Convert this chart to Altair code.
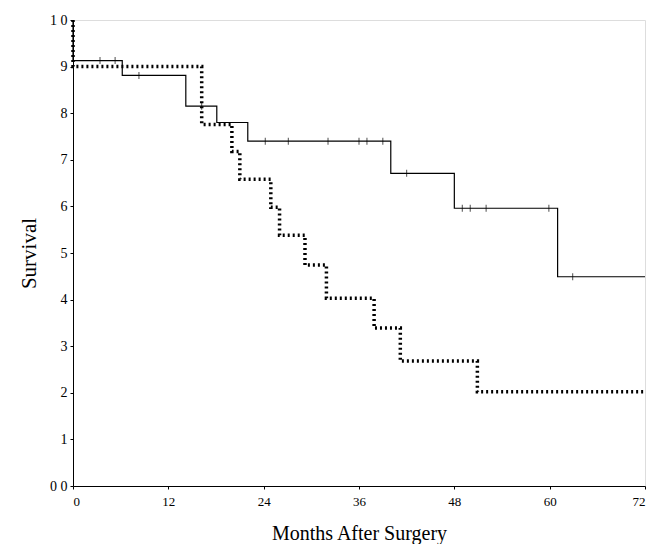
import altair as alt
import pandas as pd

# Solid curve (group A)
solid_t = [0, 0, 6.2, 14.2, 18.1, 22.0, 40.0, 48.0, 61.0, 72]
solid_s = [1.0, 0.913, 0.881, 0.815, 0.780, 0.740, 0.671, 0.596, 0.449, 0.449]
# Censor marks on solid curve
solid_cens = [3.4, 5.3, 8.3, 16.2, 24.2, 27.1, 32.1, 36.0, 37.0, 39.0, 42.0,
              49.0, 50.0, 52.0, 59.9, 62.9]

# Dashed curve (group B)
dash_t = [0, 0, 16.2, 20.0, 21.0, 24.9, 26.0, 29.2, 31.9, 37.9, 41.2, 50.9, 72]
dash_s = [1.0, 0.9, 0.776, 0.718, 0.658, 0.598, 0.538, 0.474, 0.403, 0.339,
          0.268, 0.202, 0.202]

x_ticks = [0, 12, 24, 36, 48, 60, 72]
y_ticks = [0.0, 0.1, 0.2, 0.3, 0.4, 0.5, 0.6, 0.7, 0.8, 0.9, 1.0]
y_labels = ["0 0", "1", "2", "3", "4", "5", "6", "7", "8", "9", "1 0"]


def step_value(ts, ss, t):
    v = ss[0]
    for ti, si in zip(ts, ss):
        if ti <= t:
            v = si
    return v


solid_df = pd.DataFrame({"t": solid_t, "s": solid_s, "i": range(len(solid_t))})
dash_df = pd.DataFrame({"t": dash_t, "s": dash_s, "i": range(len(dash_t))})
cens_df = pd.DataFrame({"t": solid_cens,
                        "s": [step_value(solid_t, solid_s, c) for c in solid_cens]})

label_map = "{" + ",".join(f"'{round(v*10)}':'{l}'" for v, l in zip(y_ticks, y_labels)) + "}"

font = "Liberation Serif"
xs = alt.Scale(domain=[0, 72], nice=False)
ys = alt.Scale(domain=[0, 1], nice=False)

x_enc = alt.X("t:Q", scale=xs, axis=alt.Axis(values=x_ticks, title="Months After Surgery",
              grid=False, domainColor="black", tickColor="black", tickSize=3,
              labelFont=font, labelFontSize=13, labelColor="black", labelPadding=6,
              titleFont=font, titleFontSize=20, titleFontWeight="normal",
              titleColor="black", titlePadding=15))
y_enc = alt.Y("s:Q", scale=ys, axis=alt.Axis(values=y_ticks, title="Survival",
              grid=False, domainColor="black", tickColor="black", tickSize=3,
              labelExpr=f"{label_map}[''+round(datum.value*10)]",
              labelFont=font, labelFontSize=14, labelColor="black", labelPadding=3,
              titleFont=font, titleFontSize=21, titleFontWeight="normal",
              titleColor="black", titlePadding=10))

solid = alt.Chart(solid_df).mark_line(interpolate="step-after", color="black",
                                      strokeWidth=1.2).encode(x=x_enc, y=y_enc, order="i:Q")
dashed = alt.Chart(dash_df).mark_line(interpolate="step-after", color="black",
                                      strokeWidth=3.5, strokeDash=[2, 3]).encode(
    x="t:Q", y="s:Q", order="i:Q")
cens = alt.Chart(cens_df).mark_tick(orient="vertical", color="black", size=7,
                                    thickness=1).encode(x="t:Q", y="s:Q")

chart = (dashed + solid + cens).properties(
    width=572, height=466,
    autosize=alt.AutoSizeParams(type="none"),
    padding={"left": 65, "top": 12, "right": 2, "bottom": 58},
).configure_view(stroke=None).configure(background="white")

chart.save("out.html", embed_options={"renderer": "svg", "actions": False})
